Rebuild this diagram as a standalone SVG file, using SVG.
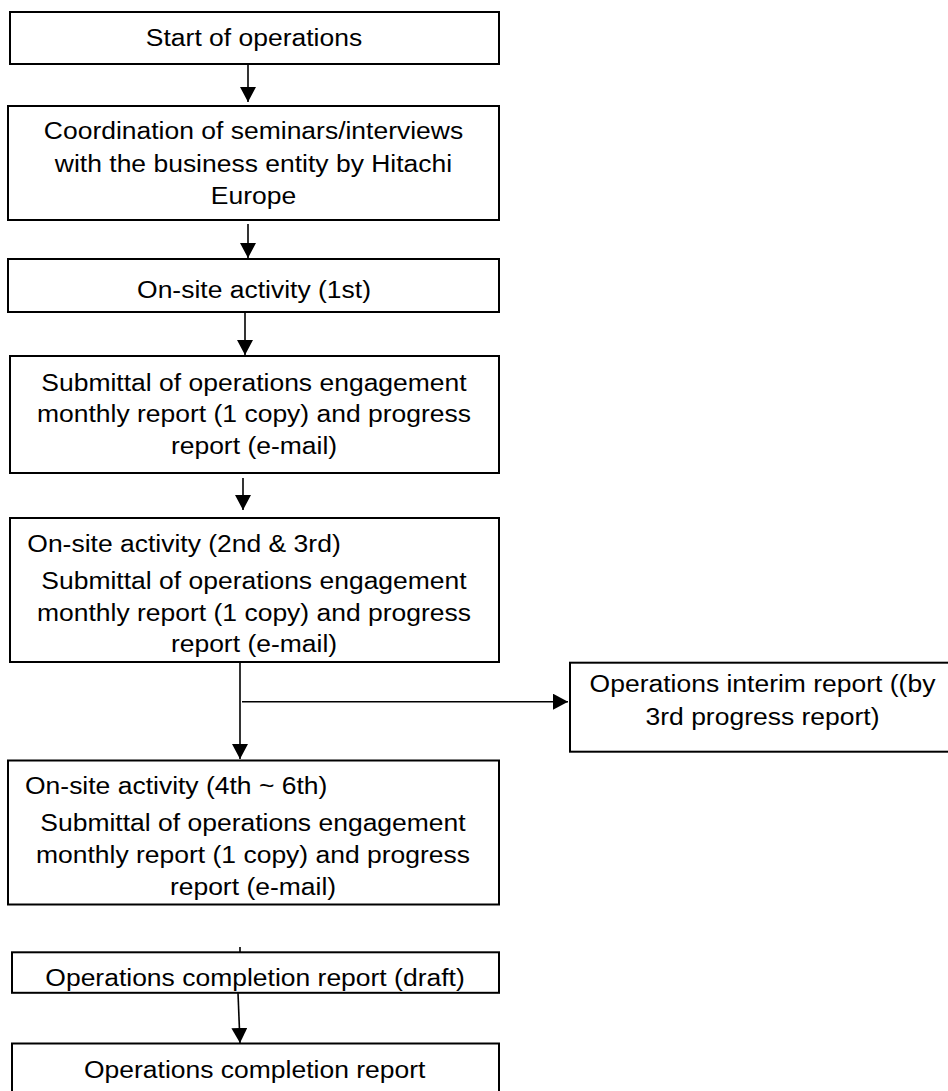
<svg xmlns="http://www.w3.org/2000/svg" width="948" height="1091" viewBox="0 0 948 1091">
<style>
.box{fill:#fff;stroke:#000;stroke-width:2}
.t{font-family:"Liberation Sans",Arial,sans-serif;font-size:24.3px;fill:#000}
.c{text-anchor:middle}
.s{text-anchor:start}
.ln{stroke:#000;stroke-width:1.6;fill:none}
.arr{marker-end:url(#ah)}
</style>
<defs>
<marker id="ah" markerUnits="userSpaceOnUse" markerWidth="16" markerHeight="16" refX="15" refY="8" orient="auto">
<path d="M0,0 L15,8 L0,16 Z" fill="#000"/>
</marker>
</defs>
<rect width="948" height="1091" fill="#fff"/>
<g id="connectors">
<line class="ln arr" x1="248" y1="64" x2="248" y2="102"/>
<line class="ln arr" x1="248" y1="224" x2="248" y2="258"/>
<line class="ln arr" x1="245" y1="312" x2="245" y2="355"/>
<line class="ln arr" x1="243" y1="478" x2="243" y2="510"/>
<line class="ln arr" x1="240" y1="662" x2="240" y2="759"/>
<line class="ln arr" x1="242" y1="701.7" x2="568" y2="701.7"/>
<line class="ln" x1="240" y1="947" x2="240" y2="952"/>
<line class="ln arr" x1="238" y1="993" x2="240" y2="1043"/>
</g>
<g id="n1">
<rect class="box" x="10" y="12" width="489" height="52"/>
<text class="t c" transform="translate(254 46) scale(1.09 1)">Start of operations</text>
</g>
<g id="n2">
<rect class="box" x="8" y="106" width="491" height="114"/>
<text class="t c" transform="translate(253.5 139.3) scale(1.09 1)">Coordination of seminars/interviews</text>
<text class="t c" transform="translate(253.5 171.7) scale(1.09 1)">with the business entity by Hitachi</text>
<text class="t c" transform="translate(253.5 203.5) scale(1.09 1)">Europe</text>
</g>
<g id="n3">
<rect class="box" x="8" y="259" width="491" height="53"/>
<text class="t c" transform="translate(254 298) scale(1.09 1)">On-site activity (1st)</text>
</g>
<g id="n4">
<rect class="box" x="10" y="356" width="489" height="117"/>
<text class="t c" transform="translate(254 390.5) scale(1.09 1)">Submittal of operations engagement</text>
<text class="t c" transform="translate(254 422.3) scale(1.09 1)">monthly report (1 copy) and progress</text>
<text class="t c" transform="translate(254 454) scale(1.09 1)">report (e-mail)</text>
</g>
<g id="n5">
<rect class="box" x="10" y="518" width="489" height="144"/>
<text class="t s" transform="translate(27.3 552.3) scale(1.09 1)">On-site activity (2nd &amp; 3rd)</text>
<text class="t c" transform="translate(254 589) scale(1.09 1)">Submittal of operations engagement</text>
<text class="t c" transform="translate(254 620.7) scale(1.09 1)">monthly report (1 copy) and progress</text>
<text class="t c" transform="translate(254 652.3) scale(1.09 1)">report (e-mail)</text>
</g>
<g id="n6">
<rect class="box" x="570" y="662.7" width="390" height="89"/>
<text class="t c" transform="translate(762.5 692) scale(1.09 1)">Operations interim report ((by</text>
<text class="t c" transform="translate(762.5 724.5) scale(1.09 1)">3rd progress report)</text>
</g>
<g id="n7">
<rect class="box" x="8" y="760.5" width="491" height="144"/>
<text class="t s" transform="translate(25 794.3) scale(1.09 1)">On-site activity (4th ~ 6th)</text>
<text class="t c" transform="translate(253 830.7) scale(1.09 1)">Submittal of operations engagement</text>
<text class="t c" transform="translate(253 862.7) scale(1.09 1)">monthly report (1 copy) and progress</text>
<text class="t c" transform="translate(253 895) scale(1.09 1)">report (e-mail)</text>
</g>
<g id="n8">
<rect class="box" x="12" y="952.3" width="487" height="40.5"/>
<text class="t c" transform="translate(255 985.5) scale(1.09 1)">Operations completion report (draft)</text>
</g>
<g id="n9">
<rect class="box" x="12" y="1043.5" width="487" height="60"/>
<text class="t c" transform="translate(254.7 1078) scale(1.09 1)">Operations completion report</text>
</g>
</svg>
